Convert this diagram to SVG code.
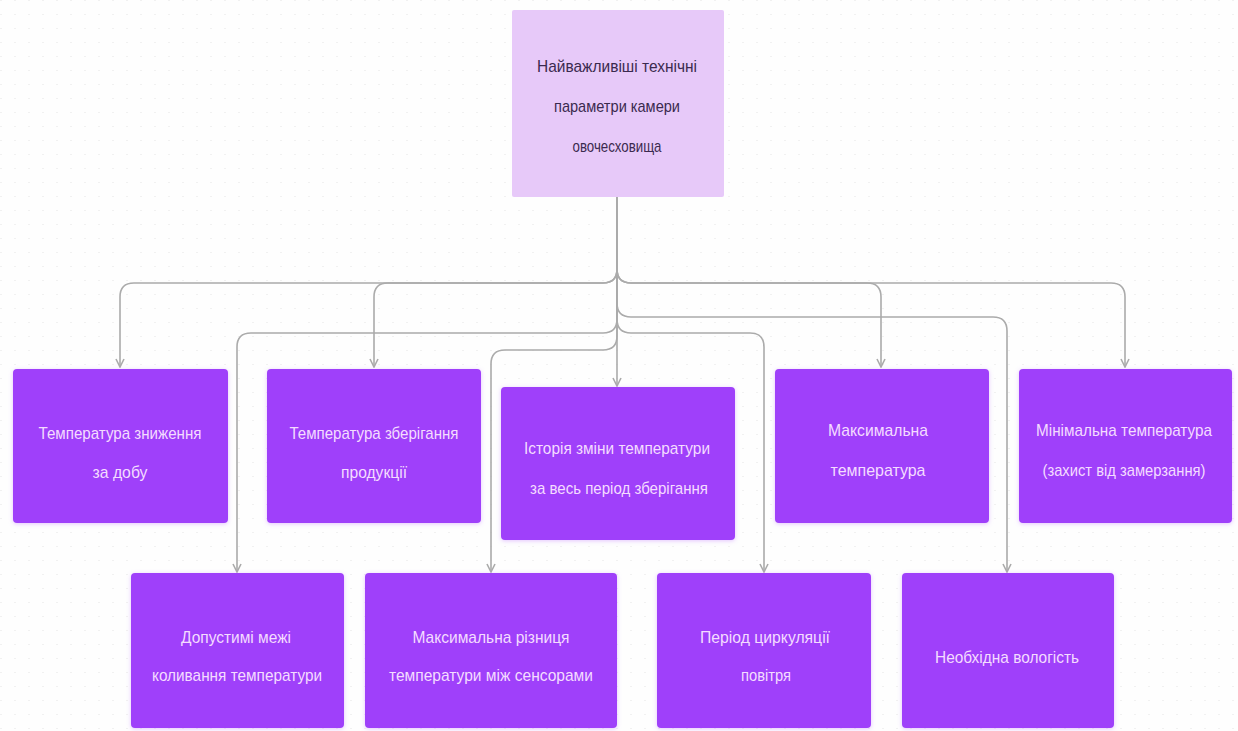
<svg xmlns="http://www.w3.org/2000/svg" width="1238" height="731" viewBox="0 0 1238 731">
<style>
.bg{fill:#fefefe}
.child rect{fill:#9f3ffa;filter:url(#sh)}
.root rect{fill:#e7c9f9}
.child text{font-family:"Liberation Sans",Arial,sans-serif;font-size:17px;fill:#f4dcff;text-anchor:middle}
.root text{font-family:"Liberation Sans",Arial,sans-serif;font-size:17px;fill:#3b2a4f;text-anchor:middle}
.conn path{fill:none;stroke:#ababab;stroke-width:1.6;marker-end:url(#arr)}
</style>
<defs>
<pattern id="grid" width="14" height="14" patternUnits="userSpaceOnUse">
<rect x="0" y="0" width="2" height="1" fill="#f1f1f1"/>
</pattern>
<marker id="arr" viewBox="0 0 10 10" refX="9" refY="5" markerWidth="10" markerHeight="10" markerUnits="userSpaceOnUse" orient="auto">
<path d="M1,1 L9,5 L1,9" fill="none" stroke="#ababab" stroke-width="1.6"/>
</marker>
<filter id="sh" x="-10%" y="-10%" width="120%" height="120%">
<feDropShadow dx="0" dy="1" stdDeviation="2" flood-color="#c98cff" flood-opacity="0.5"/>
</filter>
</defs>
<rect class="bg" x="0" y="0" width="1238" height="731"/>
<rect x="0" y="0" width="1238" height="731" fill="url(#grid)"/>

<g id="connectors" class="conn">
<path d="M617,197 V269 Q617,283 603,283 H134 Q120,283 120,297 V367"/>
<path d="M617,197 V269 Q617,283 603,283 H388 Q374,283 374,297 V367"/>
<path d="M617,197 V269 Q617,283 631,283 H867 Q881,283 881,297 V367"/>
<path d="M617,197 V269 Q617,283 631,283 H1111 Q1125,283 1125,297 V367"/>
<path d="M617,197 V303 Q617,317 631,317 H993 Q1007,317 1007,331 V572"/>
<path d="M617,197 V319 Q617,333 603,333 H251 Q237,333 237,347 V572"/>
<path d="M617,197 V319 Q617,333 631,333 H750 Q764,333 764,347 V572"/>
<path d="M617,197 V336 Q617,350 603,350 H505 Q491,350 491,364 V572"/>
<path d="M617,197 V386"/>
</g>

<g id="n0" class="root">
<rect x="512" y="10" width="212" height="187" rx="2"/>
<text x="617" y="72" textLength="160" lengthAdjust="spacingAndGlyphs">Найважливіші технічні</text>
<text x="617" y="112" textLength="126" lengthAdjust="spacingAndGlyphs">параметри камери</text>
<text x="617" y="152" textLength="89" lengthAdjust="spacingAndGlyphs">овочесховища</text>
</g>

<g id="n1" class="child">
<rect x="13" y="369" width="215" height="154" rx="4"/>
<text x="120" y="439" textLength="163" lengthAdjust="spacingAndGlyphs">Температура зниження</text>
<text x="120" y="478" textLength="55" lengthAdjust="spacingAndGlyphs">за добу</text>
</g>

<g id="n2" class="child">
<rect x="267" y="369" width="214" height="154" rx="4"/>
<text x="374" y="439" textLength="169" lengthAdjust="spacingAndGlyphs">Температура зберігання</text>
<text x="374" y="478" textLength="66" lengthAdjust="spacingAndGlyphs">продукції</text>
</g>

<g id="n3" class="child">
<rect x="501" y="387" width="234" height="153" rx="4"/>
<text x="617" y="454" textLength="186" lengthAdjust="spacingAndGlyphs">Історія зміни температури</text>
<text x="619" y="494" textLength="178" lengthAdjust="spacingAndGlyphs">за весь період зберігання</text>
</g>

<g id="n4" class="child">
<rect x="775" y="369" width="214" height="154" rx="4"/>
<text x="878" y="436" textLength="100" lengthAdjust="spacingAndGlyphs">Максимальна</text>
<text x="878" y="476" textLength="95" lengthAdjust="spacingAndGlyphs">температура</text>
</g>

<g id="n5" class="child">
<rect x="1019" y="369" width="213" height="154" rx="4"/>
<text x="1124" y="436" textLength="176" lengthAdjust="spacingAndGlyphs">Мінімальна температура</text>
<text x="1124" y="476" textLength="163" lengthAdjust="spacingAndGlyphs">(захист від замерзання)</text>
</g>

<g id="n6" class="child">
<rect x="131" y="573" width="213" height="155" rx="4"/>
<text x="236" y="643" textLength="110" lengthAdjust="spacingAndGlyphs">Допустимі межі</text>
<text x="237" y="681" textLength="170" lengthAdjust="spacingAndGlyphs">коливання температури</text>
</g>

<g id="n7" class="child">
<rect x="365" y="573" width="252" height="155" rx="4"/>
<text x="491" y="643" textLength="157" lengthAdjust="spacingAndGlyphs">Максимальна різниця</text>
<text x="491" y="681" textLength="204" lengthAdjust="spacingAndGlyphs">температури між сенсорами</text>
</g>

<g id="n8" class="child">
<rect x="657" y="573" width="214" height="155" rx="4"/>
<text x="765" y="643" textLength="130" lengthAdjust="spacingAndGlyphs">Період циркуляції</text>
<text x="766" y="681" textLength="50" lengthAdjust="spacingAndGlyphs">повітря</text>
</g>

<g id="n9" class="child">
<rect x="902" y="573" width="212" height="155" rx="4"/>
<text x="1007" y="663" textLength="144" lengthAdjust="spacingAndGlyphs">Необхідна вологість</text>
</g>
</svg>
